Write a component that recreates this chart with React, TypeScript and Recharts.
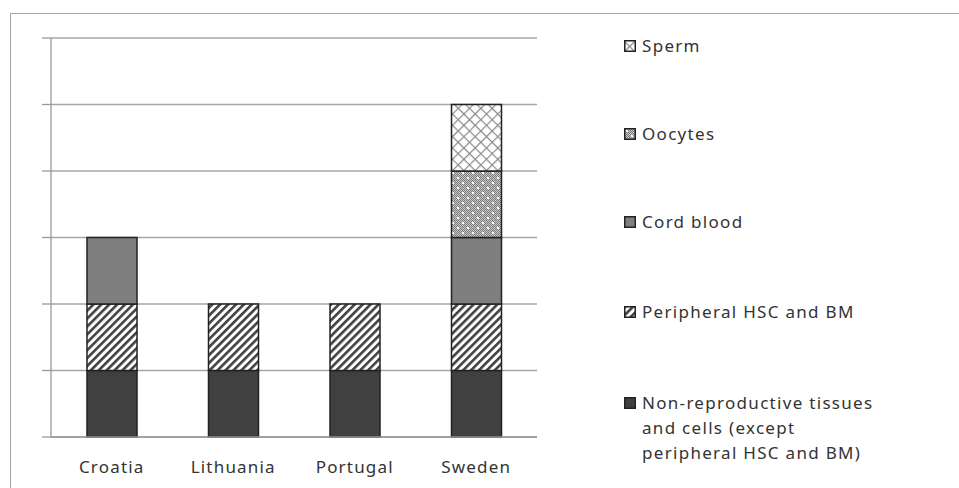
import { BarChart, Bar, XAxis, YAxis, CartesianGrid } from 'recharts'

const countries = ['Croatia', 'Lithuania', 'Portugal', 'Sweden']
const nonReproductive = [1, 1, 1, 1]
const peripheral = [1, 1, 1, 1]
const cordBlood = [1, 0, 0, 1]
const oocytes = [0, 0, 0, 1]
const sperm = [0, 0, 0, 1]
const yTicks = [0, 1, 2, 3, 4, 5, 6]
const boundaryTicks = [0, 1, 2, 3, 4]

const series = [
  { key: 'nonrep', name: ['Non-reproductive tissues', 'and cells (except', 'peripheral HSC and BM)'], values: nonReproductive, fill: '#404040' },
  { key: 'periph', name: ['Peripheral HSC and BM'], values: peripheral, fill: 'url(#hatch)' },
  { key: 'cord', name: ['Cord blood'], values: cordBlood, fill: '#7f7f7f' },
  { key: 'oocytes', name: ['Oocytes'], values: oocytes, fill: 'url(#dots)' },
  { key: 'sperm', name: ['Sperm'], values: sperm, fill: 'url(#cross)' },
]

const data = countries.map((c, i) => {
  const row: Record<string, any> = { country: c, pos: i + 0.5 }
  series.forEach(s => { row[s.key] = s.values[i] || null })
  return row
})

const font = '"Noto Sans", sans-serif'

function Patterns() {
  return (
    <svg width={0} height={0} style={{ position: 'absolute' }}>
      <defs>
        <pattern id="hatch" patternUnits="userSpaceOnUse" width={5.6} height={5.6} patternTransform="rotate(45)">
          <rect width={5.6} height={5.6} fill="#fff" />
          <rect width={2.6} height={5.6} fill="#404040" />
        </pattern>
        <pattern id="checker" patternUnits="userSpaceOnUse" width={2} height={2}>
          <rect width={2} height={2} fill="#c8c8c8" />
          <rect width={1} height={1} fill="#7a7a7a" />
          <rect x={1} y={1} width={1} height={1} fill="#7a7a7a" />
        </pattern>
        <pattern id="dots" patternUnits="userSpaceOnUse" width={10} height={10}>
          <rect width={10} height={10} fill="url(#checker)" />
          <rect x={2} y={2} width={2} height={2} fill="#fff" />
          <rect x={7} y={7} width={2} height={2} fill="#fff" />
        </pattern>
        <pattern id="cross" patternUnits="userSpaceOnUse" width={8} height={8} patternTransform="rotate(45)">
          <rect width={8} height={8} fill="#fff" />
          <rect width={1.2} height={8} fill="#8a8a8a" />
          <rect width={8} height={1.2} fill="#8a8a8a" />
        </pattern>
      </defs>
    </svg>
  )
}

function ChartLegend() {
  const items = [...series].reverse()
  const tops = [33, 121, 209, 299, 390]
  return (
    <div style={{ position: 'absolute', left: 624, top: 0, width: 330, height: 488, fontFamily: font, fontSize: 17, color: '#333', letterSpacing: 1.3 }}>
      {items.map((s, i) => (
        <div key={s.key} style={{ position: 'absolute', left: 0, top: tops[i] }}>
          <svg width={12} height={12} style={{ position: 'absolute', left: 0, top: 7 }}>
            <rect x={0.75} y={0.75} width={10.5} height={10.5} fill={s.fill} stroke="#222" strokeWidth={1.5} />
          </svg>
          <div style={{ position: 'absolute', left: 18, top: 0, lineHeight: '25px', whiteSpace: 'nowrap' }}>
            {s.name.map((l, j) => <div key={j}>{l}</div>)}
          </div>
        </div>
      ))}
    </div>
  )
}

export default function App() {
  return (
    <div style={{ position: 'absolute', left: 0, top: 0, width: 959, height: 488, background: '#fff', overflow: 'hidden' }}>
      <Patterns />
      <div style={{ position: 'absolute', left: 10, top: 13, width: 980, height: 500, border: '1.5px solid #a6a6a6' }} />
      <div style={{ position: 'absolute', left: 0, top: 0 }}>
        <BarChart width={959} height={488} data={data} margin={{ top: 38, left: 50, right: 422, bottom: 21 }}>
          <CartesianGrid vertical={false} stroke="#a6a6a6" strokeWidth={1.3} />
          <XAxis xAxisId="b" dataKey="pos" type="number" domain={[0, 4]} ticks={boundaryTicks} height={0}
            axisLine={false} tickSize={7} tickLine={{ stroke: '#999', strokeWidth: 1.3 }} tick={{ fill: 'transparent' }} />
          <XAxis dataKey="country" height={30} axisLine={{ stroke: '#999', strokeWidth: 1.3 }} tickLine={false}
            tickMargin={18} tick={{ fill: '#333', fontSize: 17, fontFamily: font, letterSpacing: 1.2 }} interval={0} />
          <YAxis domain={[0, 6]} ticks={yTicks} width={1} tickSize={9} axisLine={{ stroke: '#999', strokeWidth: 1.3 }}
            tickLine={{ stroke: '#999', strokeWidth: 1.3 }} tick={{ fill: 'transparent' }} />
          {series.map(s => (
            <Bar key={s.key} dataKey={s.key} stackId="a" fill={s.fill} stroke="#222" strokeWidth={1.5}
              barSize={50} isAnimationActive={false} />
          ))}
        </BarChart>
      </div>
      <ChartLegend />
    </div>
  )
}
